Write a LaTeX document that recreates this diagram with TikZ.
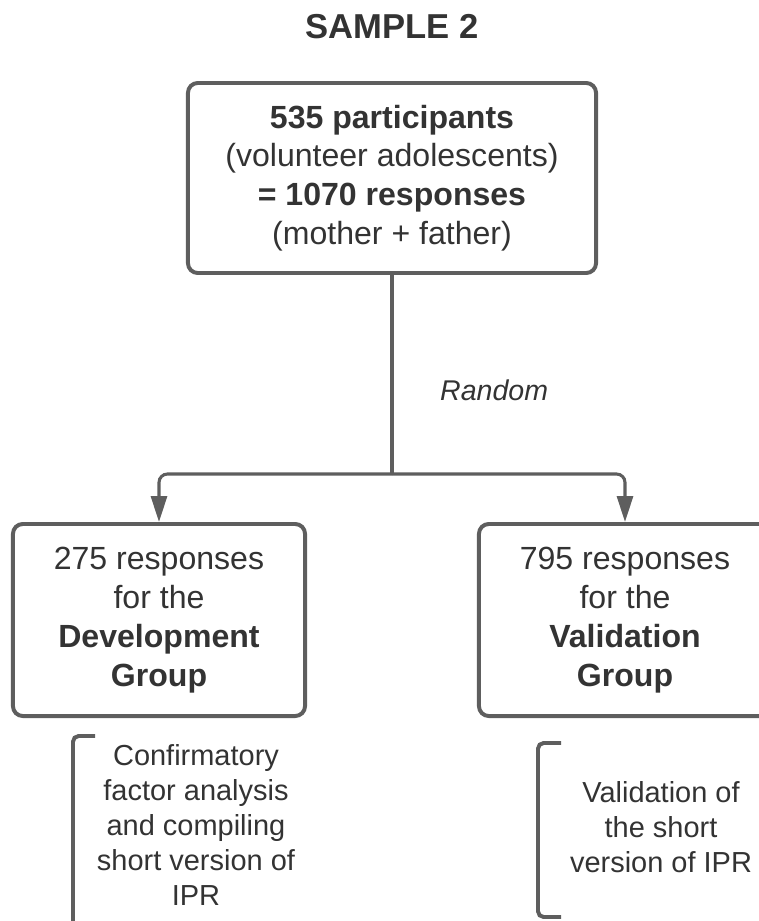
\documentclass[tikz,border=0pt]{standalone}
\usepackage{fontspec}
\setmainfont{Liberation Sans}
\usepackage{tikz}
\usetikzlibrary{arrows.meta,positioning}

\definecolor{linegray}{HTML}{5E5E5E}
\definecolor{textgray}{HTML}{333333}

\begin{document}
\begin{tikzpicture}[
  x=0.025cm, y=-0.025cm, text=textgray,
  box/.style={draw=linegray, line width=2.8pt, rounded corners=7pt, align=center,
    font=\fontsize{22.8}{27.6}\selectfont, fill=white},
  task/.style={align=center, font=\fontsize{20.6}{25}\selectfont},
  link/.style={draw=linegray, line width=2.2pt, rounded corners=6pt},
  arr/.style={link, -{Triangle[length=6.5mm, width=4mm]}},
  brk/.style={draw=linegray, line width=2.8pt, rounded corners=4pt}
]
\useasboundingbox (0,0) rectangle (758,921);

\node[font=\bfseries\fontsize{24.6}{28}\selectfont] (title) at (392,27) {SAMPLE 2};
\node[box, minimum width=10.2cm, minimum height=4.75cm] (top) at (392,178)
  {\textbf{535 participants}\\(volunteer adolescents)\\\textbf{= 1070 responses}\\(mother + father)};
\node[box, minimum width=7.3cm, minimum height=4.8cm] (dev) at (159,620)
  {275 responses\\for the\\\textbf{Development}\\\textbf{Group}};
\node[box, minimum width=7.3cm, minimum height=4.8cm] (val) at (625,620)
  {795 responses\\for the\\\textbf{Validation}\\\textbf{Group}};
\coordinate (split) at (392,474);

% split into the two groups
\draw[link] (top) -- node[pos=0.58, right=10.5mm, font=\itshape\fontsize{20.3}{24}\selectfont] (rnd) {Random} (split);
\draw[arr] (split) -| (dev);
\draw[arr] (split) -| (val);

% tasks of each group
\node[task] (devtask) at (196,825) {Confirmatory\\factor analysis\\and compiling\\short version of\\IPR};
\node[task] (valtask) at (661,827) {Validation of\\the short\\version of IPR};
\draw[brk] (95,736) -- (73,736) -- (73,940);
\draw[brk] (561,743) -- (538,743) -- (538,917) -- (561,917);
\end{tikzpicture}
\end{document}
